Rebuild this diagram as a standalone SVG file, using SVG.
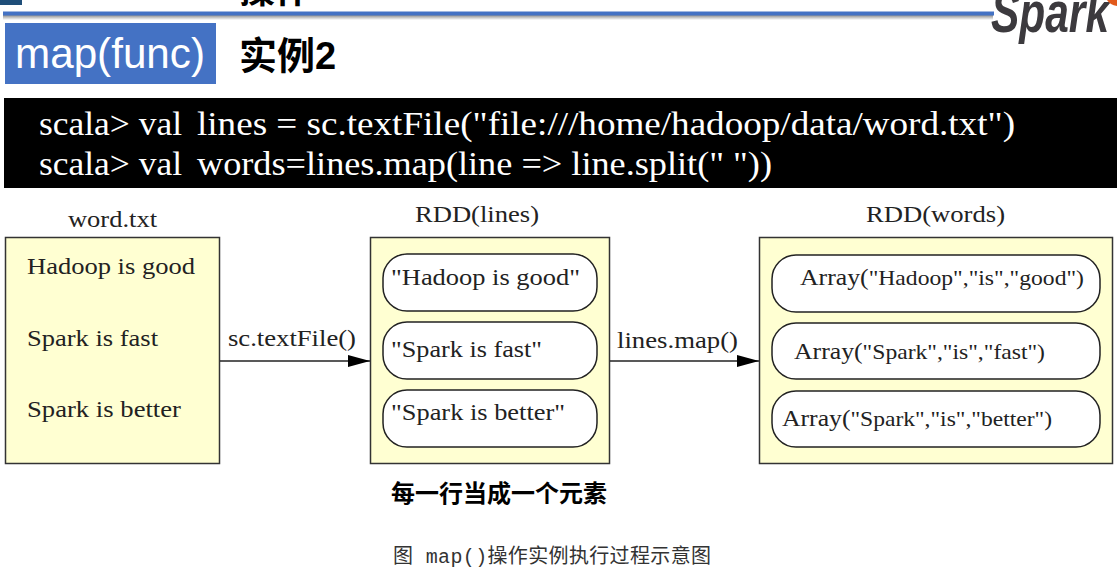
<svg xmlns="http://www.w3.org/2000/svg" width="1117" height="582" viewBox="0 0 1117 582">
<defs>
<marker id="arrow" markerUnits="userSpaceOnUse" markerWidth="22" markerHeight="14" refX="22" refY="7" orient="auto"><path d="M0 1 L22 7 L0 13 Z" fill="#000"/></marker>
<linearGradient id="sh" x1="0" y1="0" x2="0" y2="1"><stop offset="0" stop-color="#8a8a8a"/><stop offset="1" stop-color="#fff"/></linearGradient>
</defs>
<style>
.cjk{font-family:"Liberation Sans","Noto Sans CJK SC",sans-serif;font-weight:700;fill:#000}
.s{font-family:"Liberation Serif","Times New Roman",serif;fill:#222;font-size:24px}
.box{fill:#ffffd2;stroke:#333;stroke-width:1.5}
.pill{fill:#fff;stroke:#222;stroke-width:1.5}
.a{font-size:22px}
.cmd{font-family:"Liberation Serif","Noto Serif",serif;font-size:33px;fill:#fff}
.conn{stroke:#222;stroke-width:1.6;fill:none;marker-end:url(#arrow)}
</style>
<rect width="1117" height="582" fill="#fff"/>
<g id="header">
<rect x="0" y="0" width="22" height="5" fill="#1f4e79"/>
<text x="239" y="3" class="cjk" font-size="36">操作</text>
<rect x="3" y="15" width="990" height="5" fill="url(#sh)"/>
<rect x="3" y="11.500" width="991" height="4" fill="#4472c4"/>
<text x="991" y="32" font-family="'Liberation Sans',sans-serif" font-weight="700" font-style="italic" font-size="58" fill="#3c3a3e" textLength="118" lengthAdjust="spacingAndGlyphs">Spark</text>
<path d="M1107 0 H1117 V6 Q1110 5 1107 0Z" fill="#e25a1c"/>
</g>
<g id="title">
<rect x="5" y="23" width="211" height="61" fill="#4472c4"/>
<text x="15" y="68" font-family="'Liberation Sans',sans-serif" font-size="42" fill="#fff" textLength="190" lengthAdjust="spacingAndGlyphs">map(func)</text>
<text x="239" y="69" class="cjk" font-size="38">实例2</text>
</g>
<g id="command">
<rect x="4" y="98" width="1113" height="90" fill="#000"/>
<text x="39" y="135" class="cmd" textLength="143" lengthAdjust="spacingAndGlyphs">scala&gt; val</text>
<text x="197" y="135" class="cmd" textLength="818" lengthAdjust="spacingAndGlyphs">lines = sc.textFile("file:///home/hadoop/data/word.txt")</text>
<text x="39" y="175" class="cmd" textLength="143" lengthAdjust="spacingAndGlyphs">scala&gt; val</text>
<text x="197" y="175" class="cmd" textLength="575" lengthAdjust="spacingAndGlyphs" xml:space="preserve">words=lines.map(line =&gt; line.split(" "))</text>
</g>
<g id="connectors">
<path class="conn" d="M220 361 H370"/>
<path class="conn" d="M610 361 H759"/>
</g>
<g id="connector-labels">
<text x="228" y="346" class="s" textLength="128" lengthAdjust="spacingAndGlyphs">sc.textFile()</text>
<text x="617" y="348" class="s" textLength="121" lengthAdjust="spacingAndGlyphs">lines.map()</text>
</g>
<g id="word-txt">
<text x="68" y="227" class="s" textLength="89" lengthAdjust="spacingAndGlyphs">word.txt</text>
<rect class="box" x="5.500" y="237.500" width="214" height="226"/>
<text x="27" y="274" class="s" textLength="168" lengthAdjust="spacingAndGlyphs">Hadoop is good</text>
<text x="27" y="346" class="s" textLength="131" lengthAdjust="spacingAndGlyphs">Spark is fast</text>
<text x="27" y="417" class="s" textLength="154" lengthAdjust="spacingAndGlyphs">Spark is better</text>
</g>
<g id="rdd-lines">
<text x="415" y="222" class="s" textLength="124" lengthAdjust="spacingAndGlyphs">RDD(lines)</text>
<rect class="box" x="370.500" y="237.500" width="239" height="226"/>
<rect class="pill" x="383" y="254" width="214" height="57" rx="24"/>
<rect class="pill" x="383" y="322" width="214" height="57" rx="24"/>
<rect class="pill" x="383" y="390" width="214" height="57" rx="24"/>
<text x="391" y="285" class="s" textLength="189" lengthAdjust="spacingAndGlyphs">"Hadoop is good"</text>
<text x="391" y="357" class="s" textLength="151" lengthAdjust="spacingAndGlyphs">"Spark is fast"</text>
<text x="391" y="420" class="s" textLength="174" lengthAdjust="spacingAndGlyphs">"Spark is better"</text>
</g>
<g id="rdd-words">
<text x="866" y="222" class="s" textLength="139" lengthAdjust="spacingAndGlyphs">RDD(words)</text>
<rect class="box" x="759.500" y="237.500" width="353" height="226"/>
<rect class="pill" x="772" y="255" width="328" height="57" rx="24"/>
<rect class="pill" x="772" y="323" width="328" height="56" rx="24"/>
<rect class="pill" x="772" y="391" width="328" height="56" rx="24"/>
<text x="800" y="285" class="s" textLength="284" lengthAdjust="spacingAndGlyphs">Array(<tspan class="a">"Hadoop","is","good")</tspan></text>
<text x="794" y="359" class="s" textLength="251" lengthAdjust="spacingAndGlyphs">Array(<tspan class="a">"Spark","is","fast")</tspan></text>
<text x="782" y="426" class="s" textLength="270" lengthAdjust="spacingAndGlyphs">Array(<tspan class="a">"Spark","is","better")</tspan></text>
</g>
<g id="captions">
<text x="391" y="502" class="cjk" font-size="24">每一行当成一个元素</text>
<text x="393" y="563" font-family="'Liberation Mono','Noto Sans CJK SC',monospace" font-size="20" fill="#333" textLength="318" xml:space="preserve">图 map()操作实例执行过程示意图</text>
</g>
</svg>
